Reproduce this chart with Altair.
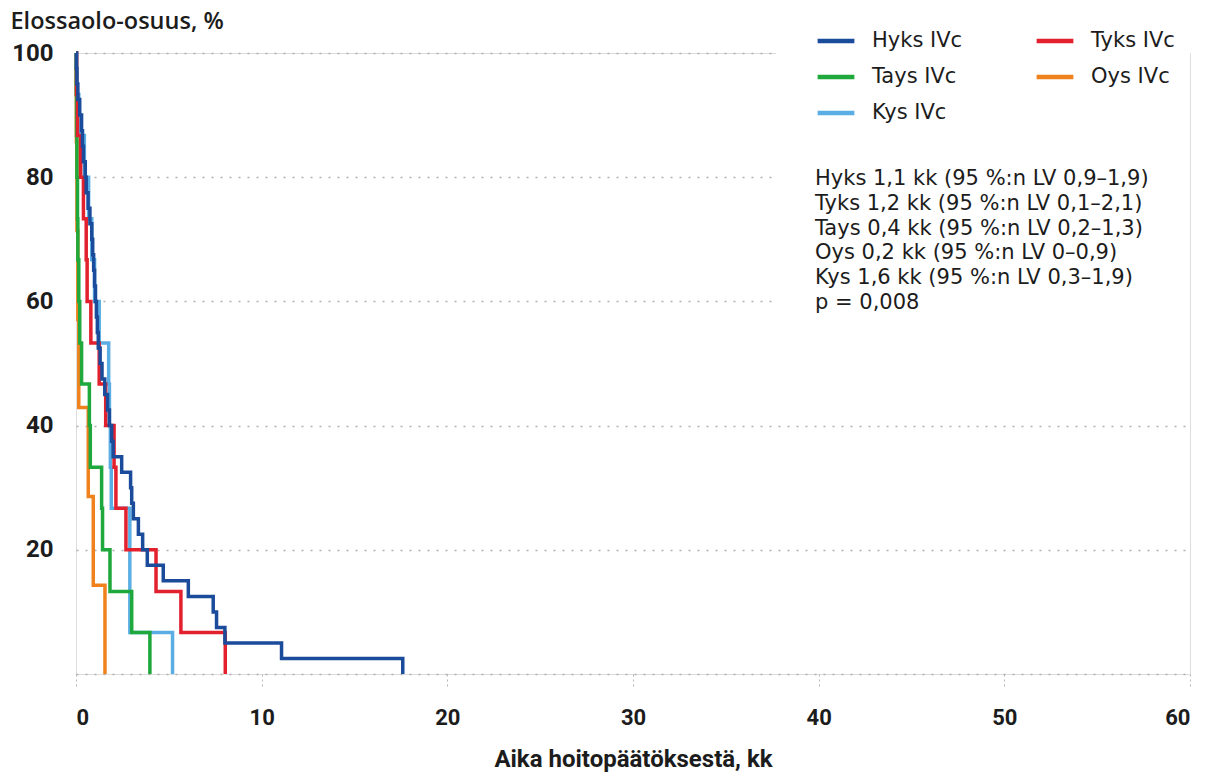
import altair as alt
import pandas as pd

# ---- data (time in months, survival %) ----
series_names = ["Hyks IVc", "Tyks IVc", "Tays IVc", "Oys IVc", "Kys IVc"]
series_colors = ["#1b4b9b", "#e3202d", "#1fa83c", "#f0821e", "#5aaee3"]
# legend fills column by column: this order gives rows Hyks/Tyks, Tays/Oys, Kys
legend_order = ["Hyks IVc", "Tays IVc", "Kys IVc", "Tyks IVc", "Oys IVc"]

hyks_t = [0, 0.02, 0.05, 0.1, 0.2, 0.3, 0.35, 0.4, 0.5, 0.55, 0.65, 0.75, 0.85, 0.9, 0.95, 1.0, 1.05,
          1.1, 1.15, 1.2, 1.3, 1.4, 1.55, 1.7, 1.8, 1.92, 2.0, 2.46, 2.94, 3.0, 3.09, 3.36, 3.59, 3.84,
          4.7, 6.05, 7.39, 7.57, 8.02, 11.07, 17.6]
hyks_s = [100, 97.5, 95, 92.5, 90, 87.5, 85, 82.5, 80, 77.5, 75, 72.5, 70, 67.5, 65, 62.5, 60, 57.5,
          55, 52.5, 50, 47.5, 45, 42.5, 40, 37.5, 35, 32.5, 30, 27.5, 25, 22.5, 20, 17.5, 15, 12.5,
          10, 7.5, 5, 2.5, 0]

tyks_t = [0, 0.03, 0.08, 0.25, 0.4, 0.55, 0.6, 0.8, 1.25, 1.6, 2.05, 2.15, 2.69, 4.31, 5.65, 8.04]
tyks_s = [100, 93.3, 86.7, 80, 73.3, 66.7, 60, 53.3, 46.7, 40, 33.3, 26.7, 20, 13.3, 6.7, 0]

tays_t = [0, 0.01, 0.03, 0.05, 0.08, 0.1, 0.15, 0.2, 0.3, 0.72, 0.77, 1.38, 1.43, 1.83, 3.0, 3.98]
tays_s = [100, 93.3, 86.7, 80, 73.3, 66.7, 60, 53.3, 46.7, 40, 33.3, 26.7, 20, 13.3, 6.7, 0]

oys_t = [0, 0.02, 0.05, 0.1, 0.15, 0.66, 0.93, 1.56]
oys_s = [100, 85.7, 71.4, 57.1, 42.9, 28.6, 14.3, 0]

kys_t = [0, 0.05, 0.15, 0.45, 0.68, 0.85, 1.0, 1.25, 1.76, 1.8, 1.85, 1.9, 2.9, 5.2]
kys_s = [100, 93.3, 86.7, 80, 73.3, 66.7, 60, 53.3, 46.7, 40, 33.3, 26.7, 6.7, 0]

x_ticks = [0, 10, 20, 30, 40, 50, 60]
y_ticks = [0, 20, 40, 60, 80, 100]

stat_lines = [
    "Hyks 1,1 kk (95 %:n LV 0,9–1,9)",
    "Tyks 1,2 kk (95 %:n LV 0,1–2,1)",
    "Tays 0,4 kk (95 %:n LV 0,2–1,3)",
    "Oys 0,2 kk (95 %:n LV 0–0,9)",
    "Kys 1,6 kk (95 %:n LV 0,3–1,9)",
    "p = 0,008",
]

# draw order: Kys first, Hyks last (on top)
rows = []
for name, ts, ss in [("Kys IVc", kys_t, kys_s), ("Oys IVc", oys_t, oys_s),
                     ("Tays IVc", tays_t, tays_s), ("Tyks IVc", tyks_t, tyks_s),
                     ("Hyks IVc", hyks_t, hyks_s)]:
    for i, (t, s) in enumerate(zip(ts, ss)):
        rows.append({"series": name, "t": t, "s": s, "i": i})
df = pd.DataFrame(rows)

FONT = "Roboto"
TFONT = "Open Sans"
BFONT = "DejaVu Sans"
TXT = "#1c1c1c"
legend_colors = [series_colors[series_names.index(n)] for n in legend_order]

lines = alt.Chart(df).mark_line(interpolate="step-after", strokeWidth=3.5).encode(
    x=alt.X("t:Q", scale=alt.Scale(domain=[0, 60], nice=False),
            axis=alt.Axis(values=x_ticks, title="Aika hoitopäätöksestä, kk", grid=False,
                          domain=False, tickDash=[2, 3], tickColor="#b5b5b5", tickSize=12,
                          tickWidth=1, labelFont=FONT, labelFontSize=22, labelFontWeight="bold",
                          labelColor=TXT, labelPadding=21, titleFont=FONT, titleFontSize=24,
                          titleFontWeight="bold", titleColor=TXT, titlePadding=19)),
    y=alt.Y("s:Q", scale=alt.Scale(domain=[0, 100], nice=False),
            axis=alt.Axis(values=y_ticks, labelExpr="datum.value == 0 ? '' : datum.label",
                          grid=True, gridDash=[2, 7], gridColor="#b0b0b0", gridWidth=1.5,
                          domain=False, ticks=False, labelFont=FONT, labelFontSize=24,
                          labelFontWeight="bold", labelColor=TXT, labelPadding=23,
                          title="Elossaolo-osuus, %", titleAngle=0, titleX=-66, titleY=-32,
                          titleAlign="left", titleBaseline="middle", titleFont=TFONT,
                          titleFontSize=23.5, titleFontWeight=600, titleColor=TXT)),
    color=alt.Color("series:N", scale=alt.Scale(domain=legend_order, range=legend_colors),
                    legend=alt.Legend(orient="none", legendX=739, legendY=-33, columns=2,
                                      title=None, symbolType="stroke", symbolStrokeWidth=4.5,
                                      symbolSize=1350, labelFont=BFONT, labelFontSize=21,
                                      labelColor=TXT, labelOffset=15, columnPadding=64,
                                      rowPadding=5)),
    order="i:Q",
)

mask = alt.Chart(pd.DataFrame({"a": [0]})).mark_rect(color="white").encode(
    x=alt.value(700), x2=alt.value(1114), y=alt.value(-8), y2=alt.value(262)
)

stats = alt.Chart(pd.DataFrame({"text": ["\n".join(stat_lines)]})).mark_text(
    align="left", baseline="middle", lineBreak="\n", lineHeight=24.8,
    font=BFONT, fontSize=21, color=TXT
).encode(text="text:N", x=alt.value(739), y=alt.value(126))

chart = alt.layer(mask, lines, stats).properties(
    width=1114, height=621,
    autosize=alt.AutoSizeParams(type="none"),
    padding={"left": 76, "top": 53, "right": 28, "bottom": 104},
).configure_view(stroke=None).configure(background="white")

chart.save("out.html", embed_options={"renderer": "svg", "actions": False})
